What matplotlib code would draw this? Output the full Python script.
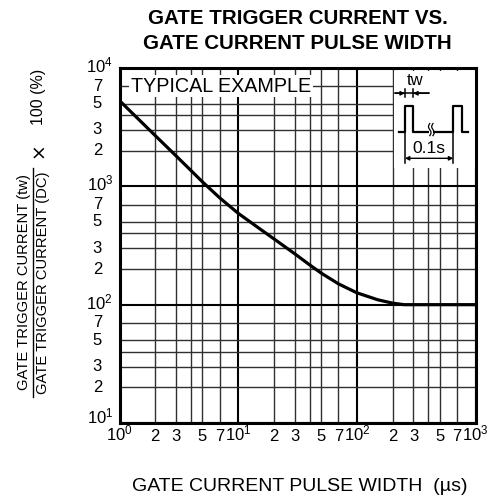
import numpy as np
import matplotlib
matplotlib.use('Agg')
import matplotlib.pyplot as plt
from matplotlib.ticker import FixedLocator, NullFormatter
from matplotlib.patches import Rectangle
from matplotlib.lines import Line2D
from matplotlib.transforms import offset_copy

plt.rcParams['font.family'] = ['Liberation Sans', 'DejaVu Sans']
plt.rcParams['mathtext.fontset'] = 'custom'
plt.rcParams['mathtext.rm'] = 'Liberation Sans'

# curve (pulse width in us, ratio in %)
pulse_width = [1, 1.5, 2, 3, 4, 5, 7, 10, 15, 20, 30, 40, 50, 70, 100, 150, 200, 250, 1000]
ratio = [5300, 3560, 2685, 1807, 1361, 1091, 798, 592, 442, 360, 269, 217, 185, 150, 126, 110, 103, 100, 100]

decades_x = [1, 10, 100, 1000]
decades_y = [10, 100, 1000, 10000]
grid_mantissas = [2, 3, 4, 5, 7]
label_mantissas = [2, 3, 5, 7]

title_lines = ['GATE TRIGGER CURRENT VS.', 'GATE CURRENT PULSE WIDTH']
xlabel = 'GATE CURRENT PULSE WIDTH  (\u00b5s)'
ylabel_num = 'GATE TRIGGER CURRENT (tw)'
ylabel_den = 'GATE TRIGGER CURRENT (DC)'
ylabel_factor = '100 (%)'


def minor_vals(decs):
    return [m * d for d in decs[:-1] for m in grid_mantissas]


def pow_label(v):
    return r'$\mathregular{10^{%d}}$' % int(round(np.log10(v)))


def minor_label(v):
    m = int(round(v / 10 ** np.floor(np.log10(v) + 1e-9)))
    return str(m) if m in label_mantissas else ''


W, H = 494, 498
fig = plt.figure(figsize=(W / 100, H / 100), dpi=100)
ax = fig.add_axes([119.5 / W, 1 - 423 / H, 356 / W, 355 / H])

ax.plot(pulse_width, ratio, color='black', lw=2.3, solid_capstyle='butt',
        solid_joinstyle='round', zorder=3)
ax.set_xscale('log')
ax.set_yscale('log')
ax.set_xlim(1, 1000)
ax.set_ylim(10, 10000)

# grid
ax.xaxis.set_major_locator(FixedLocator(decades_x))
ax.xaxis.set_minor_locator(FixedLocator(minor_vals(decades_x)))
ax.yaxis.set_major_locator(FixedLocator(decades_y))
ax.yaxis.set_minor_locator(FixedLocator(minor_vals(decades_y)))
ax.grid(which='major', color='black', lw=1.5, zorder=1)
ax.grid(which='minor', color='#303030', lw=1.0, zorder=1)
ax.set_axisbelow(True)
for axis in (ax.xaxis, ax.yaxis):
    axis.set_major_formatter(NullFormatter())
    axis.set_minor_formatter(NullFormatter())
ax.tick_params(which='both', length=0)

# tick labels, drawn by hand so they sit on their baselines
xt = ax.get_xaxis_transform()
for v in decades_x + minor_vals(decades_x):
    lab = pow_label(v) if v in decades_x else minor_label(v)
    if lab:
        ax.text(v, -0.05, lab, transform=xt, ha='center', va='baseline', fontsize=12)

yt = offset_copy(ax.get_yaxis_transform(), fig=fig, y=-4.5, units='dots')
yt_low = offset_copy(ax.get_yaxis_transform(), fig=fig, y=0, units='dots')
for v in decades_y:
    ax.text(-0.018, v, pow_label(v), transform=yt_low if v == decades_y[0] else yt,
            ha='right', va='baseline', fontsize=12)
for v in minor_vals(decades_y):
    lab = minor_label(v)
    if lab:
        ax.text(-0.049, v, lab, transform=yt, ha='right', va='baseline', fontsize=12)

for s in ax.spines.values():
    s.set_linewidth(2.2)
    s.set_zorder(5)

# "TYPICAL EXAMPLE" label
ax.text(0.285, 0.949, 'TYPICAL EXAMPLE', transform=ax.transAxes, ha='center', va='center',
        fontsize=14.2, zorder=4,
        bbox=dict(facecolor='white', edgecolor='none', pad=1.2))

# pulse sketch in upper right corner
ta = ax.transAxes
ax.add_patch(Rectangle((0.771, 0.718), 0.229, 0.274, transform=ta,
                       facecolor='white', edgecolor='none', zorder=2))
k = dict(transform=ta, color='black', lw=1.1, zorder=4)
ax.text(0.829, 0.966, 'tw', transform=ta, ha='center', va='center', fontsize=12, zorder=4)
ax.add_line(Line2D([0.775, 0.868], [0.9287, 0.9287], **k))
ax.add_line(Line2D([0.8017, 0.8017], [0.918, 0.941], **k))
ax.add_line(Line2D([0.825, 0.825], [0.918, 0.941], **k))
for x0, x1 in [(0.775, 0.8017), (0.868, 0.825)]:
    ax.annotate('', xy=(x1, 0.9287), xytext=(x0, 0.9287), xycoords=ta, textcoords=ta,
                arrowprops=dict(arrowstyle='-|>', color='black', lw=1.0,
                                mutation_scale=6, shrinkA=0, shrinkB=0), zorder=4)
px_ = [0.7865, 0.8017, 0.8017, 0.825, 0.825, 0.9376, 0.9376, 0.9612, 0.9612, 0.9789]
py_ = [0.8206, 0.8206, 0.893, 0.893, 0.8206, 0.8206, 0.893, 0.893, 0.8206, 0.8206]
ax.add_line(Line2D(px_, py_, transform=ta, color='black', lw=1.6, zorder=4))

# break mark on the baseline: a white gap with two small wavy strokes
ax.add_patch(Rectangle((0.8705, 0.812), 0.0115, 0.018, transform=ta,
                       facecolor='white', edgecolor='none', zorder=4.5))
t = np.linspace(0, 2 * np.pi, 30)
for xc in (0.8715, 0.8805):
    ax.add_line(Line2D(xc + 0.0035 * np.sin(t), 0.8095 + 0.034 * t / (2 * np.pi),
                       transform=ta, color='black', lw=0.9, zorder=4.6))

ax.add_line(Line2D([0.8017, 0.8017], [0.8206, 0.733], **k))
ax.add_line(Line2D([0.9376, 0.9376], [0.8206, 0.733], **k))
ax.annotate('', xy=(0.8017, 0.7456), xytext=(0.9376, 0.7456), xycoords=ta, textcoords=ta,
            arrowprops=dict(arrowstyle='<|-|>', color='black', lw=1.0,
                            mutation_scale=6, shrinkA=0, shrinkB=0), zorder=4)
ax.text(0.87, 0.772, '0.1s', transform=ta, ha='center', va='center', fontsize=12.5, zorder=4)

# titles and axis labels
fig.text(297.5 / W, 1 - 18.5 / H, title_lines[0], ha='center', va='center',
         fontsize=14.8, fontweight='bold')
fig.text(297.5 / W, 1 - 43.3 / H, title_lines[1], ha='center', va='center',
         fontsize=14.8, fontweight='bold')
fig.text(299.5 / W, 1 - 486 / H, xlabel, ha='center', va='center', fontsize=14)

# y label: a fraction read bottom-to-top, anchored on the text baselines
yl = dict(rotation=90, rotation_mode='anchor', ha='center', va='baseline', fontsize=10.6)
fig.text(28.3 / W, 1 - 282.5 / H, ylabel_num, **yl)
fig.text(46.7 / W, 1 - 282.5 / H, ylabel_den, **yl)
fig.add_artist(Line2D([33.0 / W, 33.0 / W], [1 - 397 / H, 1 - 168 / H], color='black', lw=1.0))
fig.text(43.3 / W, 1 - 97 / H, ylabel_factor, rotation=90, rotation_mode='anchor',
         ha='center', va='baseline', fontsize=11.5)
fig.text(39 / W, 1 - 150 / H, '\u00d7', rotation=90, rotation_mode='anchor',
         ha='center', va='center', fontsize=13.5, family=['DejaVu Sans'])

fig.savefig('out.png', dpi=100)
